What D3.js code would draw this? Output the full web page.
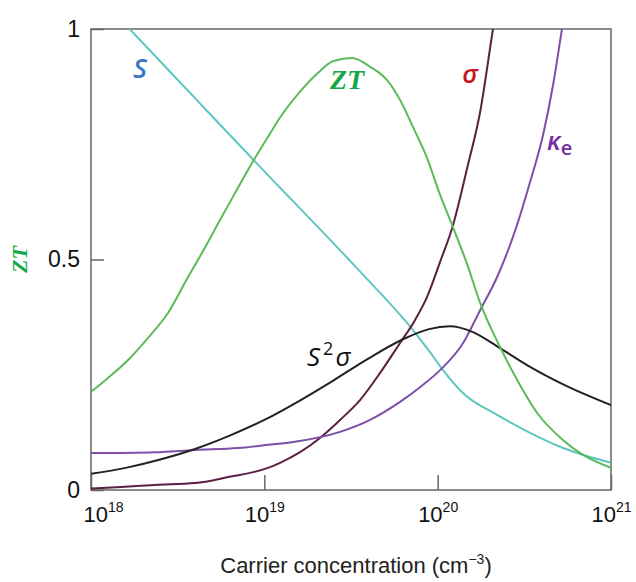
<!DOCTYPE html>
<html>
<head>
<meta charset="utf-8">
<script src="https://cdn.jsdelivr.net/npm/d3@7"></script>
<style>
  body { margin: 0; background: #fff; }
  .tick text { font-family: "Liberation Sans", Arial, sans-serif; fill: #111; }
  .lbl { font-family: "Open Sans", sans-serif; font-style: italic; }
</style>
</head>
<body>
<svg id="chart" width="636" height="582"></svg>
<script>
// carrier concentration given as log10(n), values normalised 0..1
const zt = [[18.0, 0.213], [18.098, 0.243], [18.214, 0.282], [18.329, 0.330], [18.444, 0.384],
  [18.56, 0.462], [18.617, 0.499], [18.773, 0.605], [18.946, 0.720], [19.021, 0.766], [19.091, 0.808],
  [19.206, 0.864], [19.304, 0.903], [19.396, 0.930], [19.506, 0.937], [19.61, 0.918],
  [19.708, 0.889], [19.783, 0.846], [19.858, 0.787], [19.939, 0.720], [20.014, 0.640],
  [20.083, 0.575], [20.17, 0.490], [20.245, 0.406], [20.36, 0.310], [20.458, 0.239],
  [20.574, 0.167], [20.724, 0.108], [20.839, 0.076], [21.0, 0.048]];
const seebeck = [[18.0, 1.09], [18.223, 1.0], [18.6, 0.85], [19.021, 0.683], [19.512, 0.490], [19.87, 0.341],
  [19.956, 0.299], [20.031, 0.260], [20.147, 0.210], [20.343, 0.163], [20.533, 0.124],
  [20.724, 0.091], [21.0, 0.059]];
const sigma = [[18.0, 0.003], [18.173, 0.0065], [18.369, 0.011], [18.6, 0.015], [18.79, 0.028],
  [19.021, 0.048], [19.091, 0.059], [19.206, 0.082], [19.321, 0.113], [19.437, 0.152],
  [19.552, 0.195], [19.668, 0.254], [19.783, 0.319], [19.87, 0.369], [19.939, 0.419],
  [20.014, 0.495], [20.089, 0.575], [20.17, 0.698], [20.245, 0.820], [20.32, 1.002], [20.38, 1.14]];
const kappa = [[18.0, 0.080], [18.369, 0.082], [18.6, 0.087], [18.848, 0.091], [19.021, 0.098],
  [19.166, 0.104], [19.437, 0.126], [19.61, 0.152], [19.783, 0.191], [19.898, 0.223],
  [20.014, 0.260], [20.147, 0.319], [20.245, 0.390], [20.343, 0.462], [20.458, 0.575],
  [20.533, 0.668], [20.608, 0.770], [20.666, 0.879], [20.718, 1.002], [20.76, 1.10]];
const power = [[18.0, 0.035], [18.2, 0.048], [18.4, 0.066], [18.6, 0.089], [18.8, 0.118],
  [19.0, 0.152], [19.2, 0.193], [19.4, 0.238], [19.6, 0.285], [19.8, 0.327],
  [19.95, 0.349], [20.07, 0.355], [20.2, 0.343], [20.35, 0.310],
  [20.533, 0.267], [20.724, 0.229], [21.0, 0.184]];
const xTicks = [18, 19, 20, 21];
const yTicks = [0, 0.5, 1];

const margin = {top: 29, right: 25, bottom: 92, left: 91};
const width = 636 - margin.left - margin.right;
const height = 582 - margin.top - margin.bottom;

const svg = d3.select("#chart");
const g = svg.append("g").attr("transform", `translate(${margin.left},${margin.top})`);

const x = d3.scaleLog().domain([1e18, 1e21]).range([0, width]);
const y = d3.scaleLinear().domain([0, 1]).range([height, 0]);

g.append("clipPath").attr("id", "clip")
  .append("rect").attr("width", width).attr("height", height);

// axes
const yAxis = g.append("g")
  .call(d3.axisLeft(y).tickValues(yTicks).tickSize(-13).tickPadding(11)
    .tickFormat(d => d === 0 ? "0" : d === 1 ? "1" : "0.5"));
yAxis.select(".domain").remove();
yAxis.selectAll(".tick line").attr("stroke", "#666").attr("stroke-width", 1.5);
yAxis.selectAll(".tick text").style("font-size", "23px");

const xAxis = g.append("g").attr("transform", `translate(0,${height})`)
  .call(d3.axisBottom(x).tickValues(xTicks.map(e => Math.pow(10, e))).tickSize(-15).tickFormat(""));
xAxis.select(".domain").remove();
xAxis.selectAll(".tick line").attr("stroke", "#666").attr("stroke-width", 1.5);
xAxis.selectAll(".tick").each(function (d, i) {
  const t = d3.select(this).append("text")
    .attr("y", 32)
    .attr("x", i === 0 ? 12 : 0)
    .attr("text-anchor", "middle")
    .style("font-size", "22px");
  t.append("tspan").text("10");
  t.append("tspan").attr("dy", -10).style("font-size", "14px").text(xTicks[i]);
});

g.append("rect").attr("width", width).attr("height", height)
  .attr("fill", "none").attr("stroke", "#666").attr("stroke-width", 1.5);

// curves
const line = d3.line()
  .x(d => x(Math.pow(10, d[0])))
  .y(d => y(d[1]))
  .curve(d3.curveMonotoneX);

const series = [
  {data: seebeck, color: "#5cc7c0"},
  {data: sigma, color: "#5a1f42"},
  {data: kappa, color: "#7e4fa8"},
  {data: power, color: "#222222"},
  {data: zt, color: "#5cba5a"}
];
g.append("g").attr("clip-path", "url(#clip)")
  .selectAll("path").data(series).join("path")
  .attr("d", d => line(d.data))
  .attr("fill", "none")
  .attr("stroke", d => d.color)
  .attr("stroke-width", 2);

// curve labels
const px = e => x(Math.pow(10, e));
g.append("text").attr("class", "lbl").attr("x", px(18.283)).attr("y", y(0.894))
  .attr("text-anchor", "middle").attr("fill", "#3a78c2")
  .style("font-size", "27px").style("font-weight", 600).text("S");

g.append("text").attr("x", px(19.477)).attr("y", y(0.870))
  .attr("text-anchor", "middle").attr("fill", "#14a84a")
  .style("font-family", "'Liberation Serif', serif").style("font-style", "italic")
  .style("font-weight", "bold").style("font-size", "28px").text("ZT");

g.append("text").attr("class", "lbl").attr("x", px(20.187)).attr("y", y(0.883))
  .attr("text-anchor", "middle").attr("fill", "#c8141e")
  .style("font-size", "26px").style("font-weight", 600).text("σ");

const ke = g.append("text").attr("class", "lbl").attr("x", px(20.631)).attr("y", y(0.738))
  .attr("fill", "#7230a4").style("font-size", "26px").style("font-weight", 600);
ke.append("tspan").text("κ");
ke.append("tspan").attr("dy", 5).style("font-style", "normal").style("font-size", "20px").text("e");

const s2 = g.append("text").attr("class", "lbl").attr("x", px(19.246)).attr("y", y(0.269))
  .attr("fill", "#111").style("font-size", "26px");
s2.append("tspan").text("S");
s2.append("tspan").attr("dy", -11).attr("dx", 3).style("font-style", "normal").style("font-size", "18px").text("2");
s2.append("tspan").attr("dy", 11).attr("dx", 2).text("σ");

// axis titles
svg.append("text")
  .attr("transform", `translate(27,${margin.top + y(0.5)}) rotate(-90)`)
  .attr("text-anchor", "middle").attr("fill", "#14a84a")
  .style("font-family", "'Liberation Serif', serif").style("font-style", "italic")
  .style("font-weight", "bold").style("font-size", "22px").text("ZT");

const xt = svg.append("text")
  .attr("x", 356).attr("y", 573)
  .attr("text-anchor", "middle")
  .attr("fill", "#222")
  .style("font-family", "'Liberation Sans', Arial, sans-serif")
  .style("font-size", "22px");
xt.append("tspan").text("Carrier concentration (cm");
xt.append("tspan").attr("dy", -9).style("font-size", "14px").text("−3");
xt.append("tspan").attr("dy", 9).text(")");
</script>
</body>
</html>
